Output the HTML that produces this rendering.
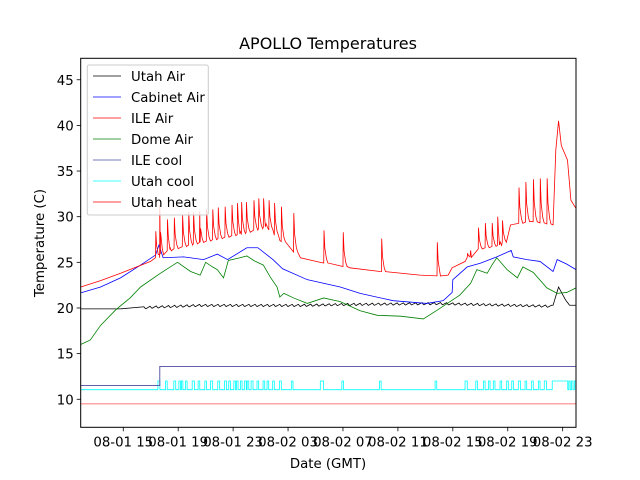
<!DOCTYPE html>
<html><head><meta charset="utf-8"><style>
body{margin:0;background:#fff;}
svg{display:block;font-family:"DejaVu Sans","Liberation Sans",sans-serif;}
</style></head><body>
<svg id="chart" width="640" height="480" xmlns="http://www.w3.org/2000/svg">
<rect width="640" height="480" fill="#fff"/>
<text x="328" y="49" text-anchor="middle" font-size="16">APOLLO Temperatures</text>
<text x="328" y="468" text-anchor="middle" font-size="13.3">Date (GMT)</text>
<text transform="translate(44,243) rotate(-90)" text-anchor="middle" font-size="13.3">Temperature (C)</text>
<g id="plot"></g>
<g id="axes"></g>
<g id="legend"></g>
</svg>
<script>
// ---- data (hours since 08-01 00:00 GMT, temperature C) ----
const xTickHours = [15,19,23,27,31,35,39,43,47];
const xTickLabels = ["08-01 15","08-01 19","08-01 23","08-02 03","08-02 07","08-02 11","08-02 15","08-02 19","08-02 23"];
const yTickValues = [10,15,20,25,30,35,40,45];

const ileAirT = [11.9,13.35,14.8,16.99,17.7,18.4,20.6,23.5,25.35,26.4,27.9,29.35,31.5,33.7,36.6,38.1,38.66,38.95,39.9,40.3,42.4,42.8,43.2,44.6,46.3,46.5,46.7,46.9,47.35,47.6,47.97];
const ileAirV = [22.3,23.0,23.8,25.1,25.9,26.4,27.2,28.1,28.9,27.4,25.5,25.0,24.4,24.0,23.6,23.5,23.6,24.4,25.1,26.3,26.9,27.5,29.1,29.5,29.1,37.3,40.5,37.8,36.2,31.8,30.9];
const ileSpikeT = [17.35,17.64,18.2,18.7,19.3,19.75,20.1,20.55,21.05,21.5,21.9,22.4,22.9,23.3,23.6,23.95,24.5,24.85,25.2,25.6,26.0,26.5,27.4,29.6,31.0,33.8,37.85,40.05,40.85,41.35,41.85,42.25,42.6,43.8,44.3,44.85,45.35,45.85];
const ileSpikeV = [28.4,31.3,29.7,29.9,30.2,30.5,30.5,30.6,30.8,30.8,31.0,31.1,31.3,31.5,31.6,31.6,31.8,32.0,32.0,31.8,31.5,31.1,30.4,28.5,28.3,27.6,27.2,26.0,28.8,29.3,29.3,30.0,29.6,33.2,33.8,34.1,34.2,34.2];

const cabinetT = [11.9,13.35,14.8,16.26,17.35,17.6,17.9,19.4,20.85,21.85,22.6,24.0,24.8,25.9,26.6,28.4,30.8,32.25,34.65,37.1,38.3,38.95,39.0,40.05,41.0,42.2,43.25,43.4,44.4,45.35,46.3,46.6,47.3,47.97];
const cabinetV = [21.65,22.3,23.3,24.7,25.8,26.9,25.5,25.6,25.3,25.9,25.3,26.6,26.6,25.3,24.3,23.1,22.3,21.6,20.8,20.5,20.8,21.7,23.1,24.5,24.9,25.6,26.3,25.6,25.3,25.1,24.0,25.3,24.8,24.2];

const domeT = [11.9,12.6,13.35,14.45,15.5,16.26,17.7,18.95,19.9,20.6,21.0,21.5,21.85,22.3,22.65,23.5,24.0,24.5,25.2,25.7,26.2,26.4,26.7,27.4,28.4,29.6,30.8,32.25,33.5,35.2,36.85,37.9,38.6,39.5,40.3,40.75,41.5,41.85,42.2,42.95,43.7,44.1,44.85,45.85,46.6,47.3,47.97];
const domeV = [16.0,16.5,18.1,19.8,21.1,22.3,23.8,25.0,24.0,23.6,25.0,24.5,24.2,23.3,25.2,25.5,25.7,25.2,24.7,23.4,22.3,21.2,21.6,21.1,20.5,21.1,20.7,19.7,19.2,19.1,18.8,19.8,20.5,21.4,22.7,24.2,23.8,24.7,25.5,24.2,23.3,24.5,23.9,22.2,21.6,21.7,22.2];

const utahAirT = [11.9,14.8,17.0,20.6,27.9,31.0,38.0,46.3,46.7,47.2,47.5,47.97];
const utahAirV = [19.9,19.9,20.2,20.4,20.4,20.5,20.6,20.3,22.3,20.9,20.3,20.3];

const ileCoolT = [11.9,17.66,47.97];
const ileCoolV = [11.5,13.6,13.6];

const utahCoolBase = 11.05, utahCoolOn = 12.0;
const utahCoolStart = [17.52,18.08,18.68,19.05,19.24,19.53,20.02,20.45,20.94,21.35,21.88,22.37,22.68,23.05,23.24,23.53,23.82,24.02,24.31,24.74,25.18,25.47,25.88,26.37,27.24,29.35,30.92,33.66,37.71,39.89,40.67,41.23,41.59,41.95,42.44,42.92,43.29,43.77,44.26,44.74,45.23,45.66,46.24,47.45,47.65,47.85];
const utahCoolDur = [0.15,0.12,0.14,0.12,0.1,0.12,0.16,0.12,0.12,0.16,0.14,0.14,0.12,0.12,0.12,0.12,0.14,0.12,0.14,0.12,0.12,0.12,0.12,0.14,0.12,0.24,0.12,0.12,0.12,0.16,0.12,0.12,0.12,0.12,0.12,0.12,0.12,0.16,0.12,0.12,0.12,0.16,1.13,0.1,0.1,0.1];

const utahHeatT = [11.9,47.97];
const utahHeatV = [9.5,9.5];

// ---- axes ----
const L=80.7,R=576,T=58.3,B=427.3;
const hMin=11.9,hMax=47.97,vMin=6.93,vMax=47.35;
const sx=h=>L+(h-hMin)/(hMax-hMin)*(R-L);
const sy=v=>B-(v-vMin)/(vMax-vMin)*(B-T);
const NS="http://www.w3.org/2000/svg";
const plot=document.getElementById('plot'), axes=document.getElementById('axes'), legend=document.getElementById('legend');
function mk(tag,attrs,parent){const e=document.createElementNS(NS,tag);for(const k in attrs)e.setAttribute(k,attrs[k]);parent.appendChild(e);return e;}
function pathFrom(pts){return pts.map((p,i)=>(i?'L':'M')+sx(p[0]).toFixed(2)+','+sy(p[1]).toFixed(2)).join('');}
function interp(ts,vs,t){if(t<=ts[0])return vs[0];for(let i=1;i<ts.length;i++){if(t<=ts[i]){const f=(t-ts[i-1])/(ts[i]-ts[i-1]);return vs[i-1]+f*(vs[i]-vs[i-1]);}}return vs[vs.length-1];}
const clip=mk('clipPath',{id:'pc'},mk('defs',{},document.getElementById('chart')));
mk('rect',{x:L,y:T,width:R-L,height:B-T},clip);
plot.setAttribute('clip-path','url(#pc)');

// Utah heat
let el=mk('path',{d:pathFrom(utahHeatT.map((t,i)=>[t,utahHeatV[i]])),stroke:'#ff0000',fill:'none','stroke-width':0.8,opacity:0.7},plot);



// Utah cool (pulses)
{let pts=[[hMin,utahCoolBase]];utahCoolStart.forEach((s,i)=>{pts.push([s,utahCoolBase],[s,utahCoolOn],[s+utahCoolDur[i],utahCoolOn],[s+utahCoolDur[i],utahCoolBase]);});pts.push([hMax,utahCoolBase]);
el=mk('path',{d:pathFrom(pts),stroke:'#00ffff',fill:'none','stroke-width':0.8},plot);

}

// ILE cool (step)
{let pts=[];ileCoolT.forEach((t,i)=>{if(i>0)pts.push([t,ileCoolV[i-1]]);pts.push([t,ileCoolV[i]]);});
el=mk('path',{d:pathFrom(pts),stroke:'#4c4ca0',fill:'none','stroke-width':0.9},plot);

}

// Utah Air with small cycling ripple
{let pts=[];const h0=utahAirT[0],h1=utahAirT[utahAirT.length-1];
for(let t=h0;t<=h1;t+=0.05){let b=interp(utahAirT,utahAirV,t);let r=0;if(t>16.5&&t<46.2){const ph=((t-16.5)/0.45)%1;r=ph<0.3?-0.25*ph/0.3:-0.25*(1-ph)/0.7;}pts.push([t,b+r]);}
el=mk('path',{d:pathFrom(pts),stroke:'#000',fill:'none','stroke-width':0.8},plot);

}

// Dome Air
el=mk('path',{d:pathFrom(domeT.map((t,i)=>[t,domeV[i]])),stroke:'#008000',fill:'none','stroke-width':0.8},plot);



// Cabinet Air
el=mk('path',{d:pathFrom(cabinetT.map((t,i)=>[t,cabinetV[i]])),stroke:'#0000ff',fill:'none','stroke-width':0.8},plot);



// ILE Air baseline + spikes
{let events=[];ileAirT.forEach((t,i)=>events.push([t,ileAirV[i]]));
ileSpikeT.forEach((s,i)=>{const p=ileSpikeV[i];const b=interp(ileAirT,ileAirV,s);
events.push([s-0.001,b],[s+0.02,p],[s+0.08,b+(p-b)*0.45],[s+0.2,b+(p-b)*0.12],[s+0.3,b]);});
events.sort((a,b)=>a[0]-b[0]);
el=mk('path',{d:pathFrom(events),stroke:'#ff0000',fill:'none','stroke-width':0.8},plot);

}

// frame & ticks
el=mk('rect',{x:L,y:T,width:R-L,height:B-T,fill:'none',stroke:'#000','stroke-width':1},axes);


xTickHours.forEach((h,i)=>{const x=sx(h);
mk('line',{x1:x,x2:x,y1:B,y2:B+4,stroke:'#000','stroke-width':0.8},axes);
const t=mk('text',{x:x,y:B+19,'text-anchor':'middle','font-size':13.3},axes);t.textContent=xTickLabels[i];

});
yTickValues.forEach(v=>{const y=sy(v);
mk('line',{x1:L-4,x2:L,y1:y,y2:y,stroke:'#000','stroke-width':0.8},axes);
const t=mk('text',{x:L-7,y:y+5,'text-anchor':'end','font-size':13.3},axes);t.textContent=v;

});

// legend
const legNames=["Utah Air","Cabinet Air","ILE Air","Dome Air","ILE cool","Utah cool","Utah heat"];
const legColors=["#000","#0000ff","#ff0000","#008000","#4c4ca0","#00ffff","#ff0000"];
el=mk('rect',{x:87.3,y:65,width:121,height:150,rx:2,fill:'#fff','fill-opacity':0.8,stroke:'#ccc','stroke-width':1},legend);


legNames.forEach((n,i)=>{const y=76+i*21;
const g=mk('g',{},legend);


mk('line',{x1:93,x2:121,y1:y,y2:y,stroke:legColors[i],'stroke-width':0.8},g);
const t=mk('text',{x:131,y:y+5,'font-size':13.3},g);t.textContent=n;});
</script>
</body></html>
